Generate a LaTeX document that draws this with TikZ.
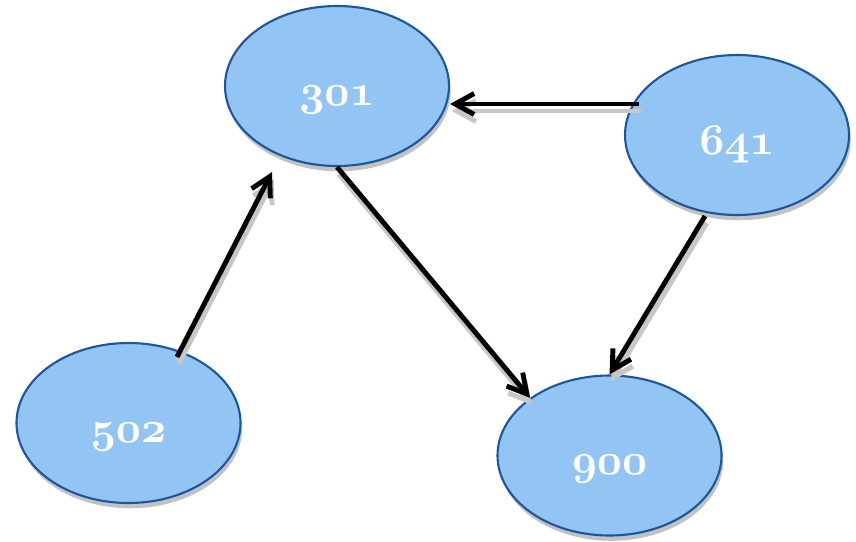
\documentclass[tikz,border=0pt]{standalone}
\usetikzlibrary{shapes.geometric,arrows.meta,shadows}
\definecolor{nodefill}{RGB}{147,197,244}
\definecolor{nodeline}{RGB}{28,86,156}
\tikzset{
  vertex/.style={ellipse,draw=nodeline,line width=1.2pt,fill=nodefill,
    minimum width=4.48cm,minimum height=3.2cm,inner sep=0pt,text=white,
    font=\fontsize{27}{32}\selectfont,
    drop shadow={shadow xshift=1pt,shadow yshift=-3pt,opacity=0.4,fill=black!60}},
  edge/.style={->,line width=2.8pt,black,
    preaction={draw=black!22,line width=2.8pt,transform canvas={xshift=1pt,yshift=-4pt}}}
}
\newcommand{\vlabel}[1]{\smash{\raisebox{-0.38cm}{\usefont{OML}{cmm}{b}{it}#1}}}
\begin{document}
\begin{tikzpicture}[>={Straight Barb[length=0.38cm,width=0.42cm]}]
\useasboundingbox (0,0) rectangle (17.12,-10.82);
\node (n301) at (6.74,-1.72)[vertex]{\vlabel{301}};
\node (n641) at (14.74,-2.70)[vertex]{\vlabel{641}};
\node (n502) at (2.57,-8.46)[vertex]{\vlabel{502}};
\node (n900) at (12.19,-9.11)[vertex]{\vlabel{900}};

\draw[edge] ([xshift=0.3cm,yshift=0.62cm]n641.west)--([yshift=-0.36cm]n301.east);
\draw[edge] ([xshift=0.97cm,yshift=-0.3cm]n502.north)--([xshift=-1.3cm,yshift=-0.1cm]n301.south);
\draw[edge] (n301.south)--(n900.144);
\draw[edge] ([xshift=-0.64cm]n641.south)--(n900.north);
\end{tikzpicture}
\end{document}
